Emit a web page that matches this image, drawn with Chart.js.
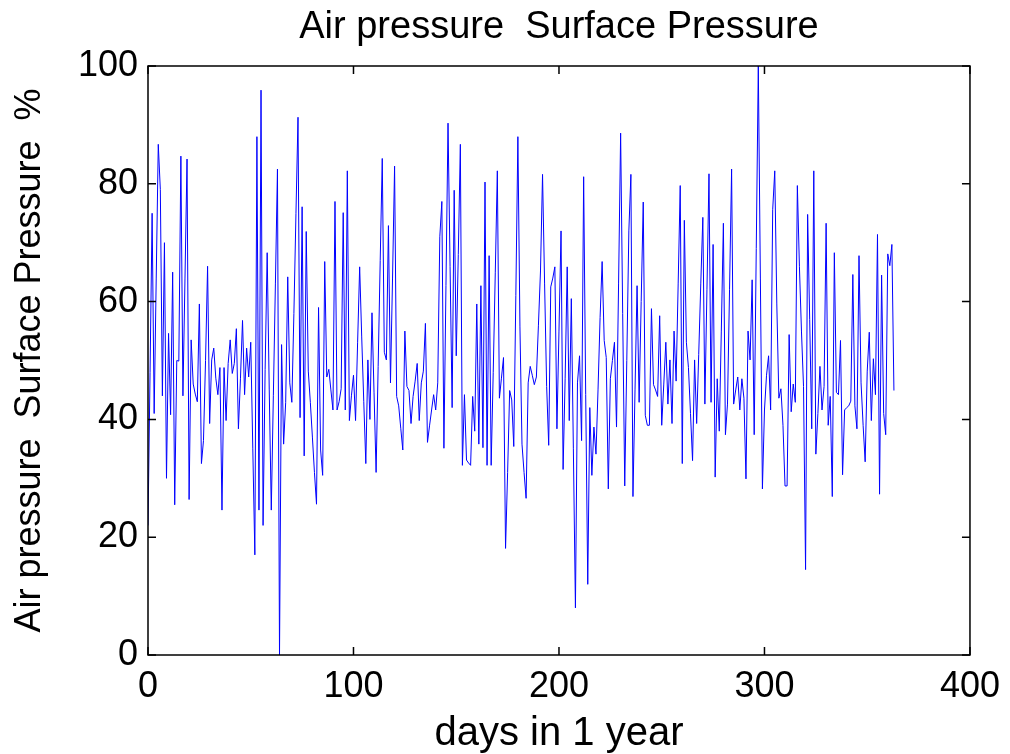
<!DOCTYPE html>
<html>
<head>
<meta charset="utf-8">
<script src="https://cdn.jsdelivr.net/npm/chart.js@4.4.1/dist/chart.umd.min.js"></script>
<style>
    html, body { margin:0; padding:0; background:#fff; }
    #wrap { width:1010px; height:754px; }
</style>
</head>
<body>
<div id="wrap"><canvas id="pressureChart" width="1010" height="754"></canvas></div>
<script>
// ======================================================
// Data
// ======================================================

const chartTitle = "Air pressure  Surface Pressure";
const xTitle = "days in 1 year";
const yTitle = "Air pressure  Surface Pressure  %";

const xTicks = [0, 100, 200, 300, 400];
const yTicks = [0, 20, 40, 60, 80, 100];

const pressure = [
    22, 48, 75, 41, 64, 86.7, 79, 44, 70, 30, 54.6, 40.8, 65, 25.5, 50, 49.9, 84.7, 44, 64, 84.2,
    26.4, 53.5, 46, 44.3, 43, 59.6, 32.5, 36.4, 50, 66, 39.3,
    50.1, 52.1, 47, 44.2, 48.8, 24.6, 48.8, 39.8, 49.5, 53.5, 47.8, 49.5, 55.4, 38.4, 47, 56.8,
    44.2, 52.1, 47.2, 53.1, 35, 17, 88, 24.6, 95.9, 22, 48.5, 68.3, 45, 24.6,
    44, 63, 82.5, 0, 52.7, 35.8, 42.9, 64.2, 46.2, 42.9, 58, 75, 91.3, 40.3, 76.1, 33.8, 71.9,
    48.2, 42.9, 37, 31, 25.6, 59, 34.8, 30.5, 66.8, 47.2, 48.5, 45, 41.6, 77,
    41.6, 43, 45.2, 75.1, 41.6, 82.2, 39.8, 44, 47.5, 39.8, 53, 65.9, 54, 43, 32.5, 50.1, 40,
    58.1, 44.5, 31, 49, 67, 84.3, 51.4, 50.1, 72.9, 46.2, 64, 83, 43.9,
    42.3, 38.5, 34.8, 55, 45.6, 44.9, 39.3, 43.9, 46.5, 49.5, 39.8, 46.2, 48.2, 56.3, 36.1, 38.9,
    41.6, 44.2, 41.6, 46.2, 71, 77, 35.1, 62.7, 90.3, 66, 42, 78.9, 50.8, 68, 86.7,
    32.2, 44.2, 33.1, 32.6, 32.2, 43.9, 38, 59.6, 35.8, 62.7, 35.2, 80.3, 32.2, 67.8, 32.2, 48,
    65, 82.2, 43.6, 47, 50.5, 18.1, 31, 44.9, 43.3, 35.4, 61, 88, 55.7, 35.8,
    31, 26.6, 46.2, 49, 47.5, 45.9, 47.2, 56, 65.2, 81.6, 63, 45.6, 35.6, 62.5, 64, 65.9, 38.4,
    55, 72, 31.5, 47, 65.9, 39.8, 60.5, 35, 8, 46.2, 50.8, 36.4, 81.2, 44.2, 12,
    42, 30.5, 38.7, 34.1, 45, 57.3, 66.8, 53.4, 50.5, 28.2, 46.9, 50, 53.1, 38.7, 63, 88.6, 58,
    28.7, 50, 72, 81.6, 26.9, 45, 62.7, 42.9, 60, 76.9, 40.7, 39,
    39, 58.8, 45.9, 45, 43.9, 57.6, 39, 46, 53.1, 42.6, 50.1, 39.3, 55, 46.5, 63, 79.7, 32.5,
    73.8, 53.1, 48.8, 41, 33, 50.1, 39.3, 51, 63, 74.3, 42.6, 62, 81.7, 42.9,
    69.7, 30.2, 46.9, 38, 55, 73.3, 37.4, 42.6, 62, 82.5, 42.6, 45, 47.2, 41.6, 46.9, 43.6, 29.9,
    55, 50.1, 63.7, 37.4, 69, 100, 64, 28.2, 41.6, 47.5, 50.8, 41.6, 75.6,
    82.2, 59.6, 43.6, 45.2, 39, 28.7, 28.7, 54.4, 41.3, 46, 42.9, 79.7, 66, 55, 45.6, 14.5, 74.8,
    57, 38.4, 82.2, 34.1, 41, 49, 41.6, 45.6, 73.3, 39, 43.9, 26.9, 68.3, 44.6,
    44.2, 53.4, 30.6, 41.6, 42, 42.3, 43.1, 64.6, 42.3, 38.4, 67.8, 46.2, 39, 32.8, 48.2, 54.8,
    39.8, 50.3, 44.2, 71.4, 27.3, 64.5, 41, 37.4, 68.1, 66.1, 69.7, 44.9
];

const days = pressure.map((_, i) => i);

// ======================================================
// Style
// ======================================================

const FONT = "'Liberation Sans', Arial, Helvetica, sans-serif";
const FONT_SIZE = 36;

// title centred over the plot box (MATLAB does it that way)
const titlePlugin = {
    id: "boxTitle",
    afterDraw(chart) {
        const { ctx, chartArea: a } = chart;
        ctx.save();
        ctx.fillStyle = "#000";
        ctx.font = "38px " + FONT;
        ctx.textAlign = "center";
        ctx.textBaseline = "middle";
        ctx.fillText(chartTitle, (a.left + a.right) / 2, 28);
        ctx.restore();
    }
};

// box around the plot with inward tick marks, like MATLAB axes
const boxPlugin = {
    id: "matlabBox",
    afterDatasetsDraw(chart) {
        const { ctx, chartArea: a, scales } = chart;
        const tick = 8;

        ctx.save();
        ctx.strokeStyle = "#000";
        ctx.lineWidth = 1.5;
        ctx.strokeRect(a.left, a.top, a.right - a.left, a.bottom - a.top);

        ctx.beginPath();
        xTicks.forEach(v => {
            const px = scales.x.getPixelForValue(v);
            ctx.moveTo(px, a.bottom); ctx.lineTo(px, a.bottom - tick);
            ctx.moveTo(px, a.top); ctx.lineTo(px, a.top + tick);
        });
        yTicks.forEach(v => {
            const py = scales.y.getPixelForValue(v);
            ctx.moveTo(a.left, py); ctx.lineTo(a.left + tick, py);
            ctx.moveTo(a.right, py); ctx.lineTo(a.right - tick, py);
        });
        ctx.stroke();
        ctx.restore();
    }
};

// ======================================================
// Chart
// ======================================================

new Chart(
    document.getElementById("pressureChart"),
    {
        type: "line",
        data: {
            datasets: [
                {
                    label: yTitle,
                    data: days.map((d, i) => ({ x: d, y: pressure[i] })),
                    borderColor: "#0000ff",
                    borderWidth: 1,
                    pointRadius: 0,
                    tension: 0,
                    fill: false
                }
            ]
        },
        plugins: [boxPlugin, titlePlugin],
        options: {
            responsive: false,
            animation: false,
            layout: {
                padding: { left: 0, right: 40, top: 66, bottom: 0 }
            },
            plugins: {
                legend: { display: false },
                tooltip: { enabled: false },
                title: { display: false }
            },
            scales: {
                x: {
                    type: "linear",
                    min: 0,
                    max: 400,
                    afterFit: s => { s.height = 99; },
                    afterBuildTicks: s => { s.ticks = xTicks.map(v => ({ value: v })); },
                    grid: { display: false, drawTicks: false },
                    border: { display: false },
                    ticks: {
                        color: "#000",
                        padding: 10,
                        maxRotation: 0,
                        font: { family: FONT, size: FONT_SIZE }
                    },
                    title: {
                        display: true,
                        text: xTitle,
                        color: "#000",
                        padding: { top: 0, bottom: 0 },
                        font: { family: FONT, size: 40, lineHeight: 1.0 }
                    }
                },
                y: {
                    min: 0,
                    max: 100,
                    afterFit: s => { s.width = 148; },
                    afterBuildTicks: s => { s.ticks = yTicks.map(v => ({ value: v })); },
                    grid: { display: false, drawTicks: false },
                    border: { display: false },
                    ticks: {
                        color: "#000",
                        padding: 10,
                        font: { family: FONT, size: FONT_SIZE }
                    },
                    title: {
                        display: true,
                        text: yTitle,
                        color: "#000",
                        padding: { top: 8, bottom: 0 },
                        font: { family: FONT, size: FONT_SIZE }
                    }
                }
            }
        }
    }
);
</script>
</body>
</html>
